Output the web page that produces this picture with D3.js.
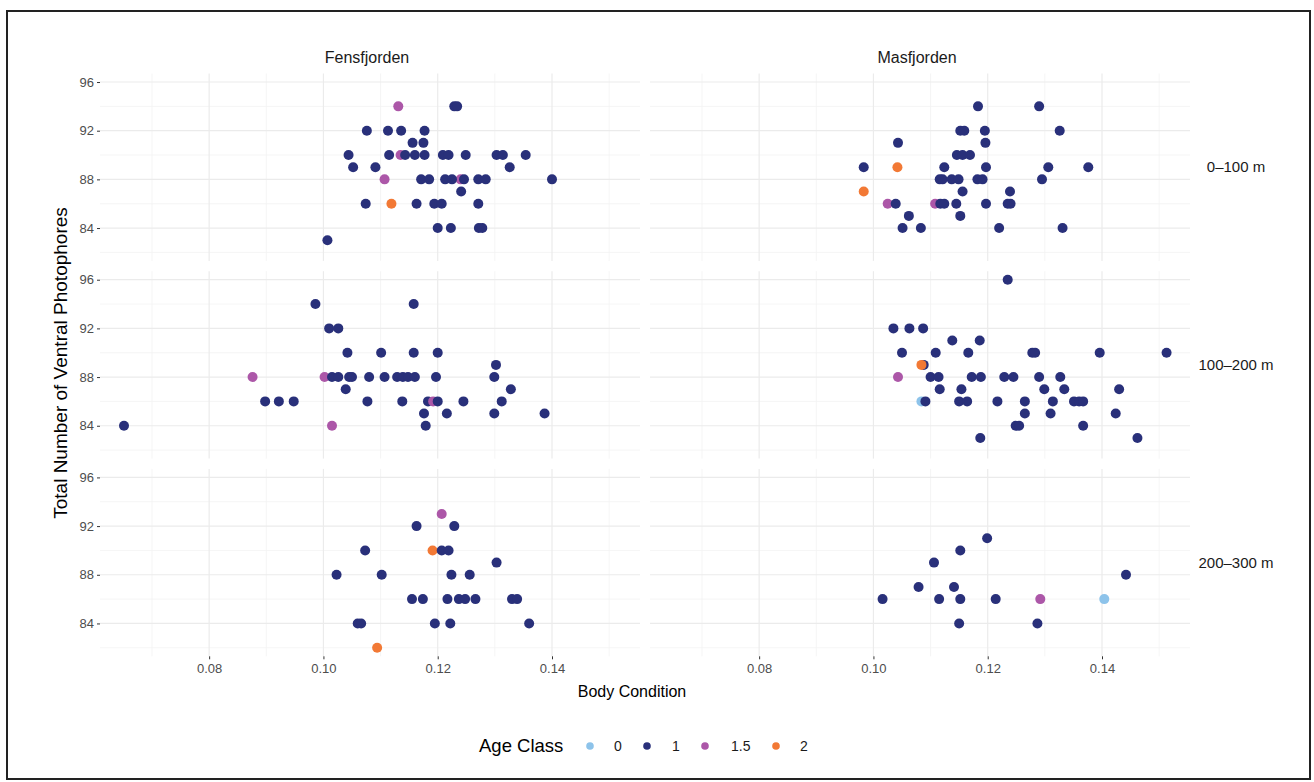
<!DOCTYPE html>
<html>
<head>
<meta charset="utf-8">
<script src="https://cdn.jsdelivr.net/npm/d3@7"></script>
<style>
  html, body { margin: 0; padding: 0; background: #fff; }
  svg { display: block; font-family: "Liberation Sans", Arial, Helvetica, sans-serif; }
</style>
</head>
<body>
<svg id="chart" width="1314" height="782"></svg>
<script>
// ---------- DATA ----------
const fjords = ["Fensfjorden", "Masfjorden"];
const depths = ["0–100 m", "100–200 m", "200–300 m"];
const ageClasses = ["0", "1", "1.5", "2"];
const ageColors = ["#8DC3EA", "#29307A", "#AC57A8", "#F27935"];
const xTicks = [0.08, 0.10, 0.12, 0.14];
const yTicks = [84, 88, 92, 96];
const xMinor = [0.07, 0.09, 0.11, 0.13, 0.15];
const yMinor = [82, 86, 90, 94];

// [body condition, photophores, age class]
const fens0_100 = [
  [0.1131,94,"1.5"],[0.1229,94,"1"],[0.1234,94,"1"],
  [0.1076,92,"1"],[0.1113,92,"1"],[0.1136,92,"1"],[0.1177,92,"1"],
  [0.1156,91,"1"],[0.1175,91,"1"],
  [0.1135,90,"1.5"],[0.1044,90,"1"],[0.1115,90,"1"],[0.1143,90,"1"],[0.1160,90,"1"],[0.1177,90,"1"],
  [0.1209,90,"1"],[0.1219,90,"1"],[0.1249,90,"1"],[0.1303,90,"1"],[0.1314,90,"1"],[0.1354,90,"1"],
  [0.1052,89,"1"],[0.1091,89,"1"],[0.1326,89,"1"],
  [0.1107,88,"1.5"],[0.1240,88,"1.5"],[0.1171,88,"1"],[0.1185,88,"1"],[0.1213,88,"1"],[0.1225,88,"1"],
  [0.1246,88,"1"],[0.1271,88,"1"],[0.1284,88,"1"],[0.1400,88,"1"],
  [0.1241,87,"1"],
  [0.1074,86,"1"],[0.1119,86,"2"],[0.1163,86,"1"],[0.1194,86,"1"],[0.1207,86,"1"],[0.1271,86,"1"],
  [0.1200,84,"1"],[0.1223,84,"1"],[0.1272,84,"1"],[0.1278,84,"1"],
  [0.1007,83,"1"]
];
const mas0_100 = [
  [0.1183,94,"1"],[0.1290,94,"1"],
  [0.1152,92,"1"],[0.1159,92,"1"],[0.1195,92,"1"],[0.1326,92,"1"],
  [0.1043,91,"1"],[0.1196,91,"1"],
  [0.1146,90,"1"],[0.1156,90,"1"],[0.1169,90,"1"],
  [0.0983,89,"1"],[0.1042,89,"2"],[0.1124,89,"1"],[0.1197,89,"1"],[0.1306,89,"1"],[0.1376,89,"1"],
  [0.1116,88,"1"],[0.1121,88,"1"],[0.1137,88,"1"],[0.1149,88,"1"],[0.1182,88,"1"],[0.1191,88,"1"],[0.1295,88,"1"],
  [0.0983,87,"2"],[0.1156,87,"1"],[0.1239,87,"1"],
  [0.1025,86,"1.5"],[0.1039,86,"1"],[0.1108,86,"1.5"],[0.1117,86,"1"],[0.1124,86,"1"],[0.1145,86,"1"],
  [0.1197,86,"1"],[0.1235,86,"1"],[0.1240,86,"1"],
  [0.1062,85,"1"],[0.1152,85,"1"],
  [0.1051,84,"1"],[0.1083,84,"1"],[0.1220,84,"1"],[0.1331,84,"1"]
];
const fens100_200 = [
  [0.0986,94,"1"],[0.1158,94,"1"],
  [0.1010,92,"1"],[0.1026,92,"1"],
  [0.1042,90,"1"],[0.1101,90,"1"],[0.1158,90,"1"],[0.1200,90,"1"],
  [0.1302,89,"1"],
  [0.0876,88,"1.5"],[0.1002,88,"1.5"],[0.1015,88,"1"],[0.1026,88,"1"],[0.1045,88,"1"],[0.1050,88,"1"],
  [0.1080,88,"1"],[0.1107,88,"1"],[0.1129,88,"1"],[0.1139,88,"1"],[0.1148,88,"1"],[0.1160,88,"1"],
  [0.1197,88,"1"],[0.1299,88,"1"],
  [0.1039,87,"1"],[0.1328,87,"1"],
  [0.0898,86,"1"],[0.0922,86,"1"],[0.0948,86,"1"],[0.1077,86,"1"],[0.1138,86,"1"],[0.1183,86,"1"],
  [0.1192,86,"1.5"],[0.1200,86,"1"],[0.1245,86,"1"],[0.1312,86,"1"],
  [0.1176,85,"1"],[0.1216,85,"1"],[0.1299,85,"1"],[0.1387,85,"1"],
  [0.0651,84,"1"],[0.1015,84,"1.5"],[0.1179,84,"1"]
];
const mas100_200 = [
  [0.1235,96,"1"],
  [0.1035,92,"1"],[0.1063,92,"1"],[0.1087,92,"1"],
  [0.1138,91,"1"],[0.1186,91,"1"],
  [0.1050,90,"1"],[0.1109,90,"1"],[0.1166,90,"1"],[0.1278,90,"1"],[0.1283,90,"1"],[0.1396,90,"1"],[0.1513,90,"1"],
  [0.1088,89,"1"],[0.1084,89,"2"],
  [0.1043,88,"1.5"],[0.1100,88,"1"],[0.1114,88,"1"],[0.1172,88,"1"],[0.1188,88,"1"],[0.1229,88,"1"],
  [0.1245,88,"1"],[0.1290,88,"1"],[0.1327,88,"1"],
  [0.1116,87,"1"],[0.1154,87,"1"],[0.1299,87,"1"],[0.1334,87,"1"],[0.1430,87,"1"],
  [0.1084,86,"0"],[0.1091,86,"1"],[0.1150,86,"1"],[0.1164,86,"1"],[0.1217,86,"1"],[0.1265,86,"1"],
  [0.1314,86,"1"],[0.1351,86,"1"],[0.1360,86,"1"],[0.1367,86,"1"],
  [0.1265,85,"1"],[0.1310,85,"1"],[0.1424,85,"1"],
  [0.1249,84,"1"],[0.1255,84,"1"],[0.1367,84,"1"],
  [0.1187,83,"1"],[0.1462,83,"1"]
];
const fens200_300 = [
  [0.1207,93,"1.5"],
  [0.1163,92,"1"],[0.1229,92,"1"],
  [0.1073,90,"1"],[0.1191,90,"2"],[0.1207,90,"1"],[0.1219,90,"1"],
  [0.1303,89,"1"],
  [0.1023,88,"1"],[0.1102,88,"1"],[0.1224,88,"1"],[0.1256,88,"1"],
  [0.1155,86,"1"],[0.1174,86,"1"],[0.1217,86,"1"],[0.1237,86,"1"],[0.1248,86,"1"],[0.1266,86,"1"],
  [0.1330,86,"1"],[0.1339,86,"1"],
  [0.1060,84,"1"],[0.1066,84,"1"],[0.1195,84,"1"],[0.1222,84,"1"],[0.1360,84,"1"],
  [0.1094,82,"2"]
];
const mas200_300 = [
  [0.1199,91,"1"],[0.1152,90,"1"],[0.1106,89,"1"],[0.1442,88,"1"],
  [0.1079,87,"1"],[0.1141,87,"1"],
  [0.1016,86,"1"],[0.1115,86,"1"],[0.1152,86,"1"],[0.1214,86,"1"],[0.1292,86,"1.5"],[0.1404,86,"0"],
  [0.1150,84,"1"],[0.1287,84,"1"]
];

const panelData = [
  [fens0_100, mas0_100],
  [fens100_200, mas100_200],
  [fens200_300, mas200_300]
];

// ---------- LAYOUT ----------
const svg = d3.select("#chart");
const panelW = 540, panelH = 187.4;
const panelX0 = 100, panelGapX = 10;
const panelY0 = 73.5, panelPitchY = 197.7;

const x = d3.scaleLinear().domain([0.0609, 0.1554]).range([0, panelW]);
const y = d3.scaleLinear().domain([81.3, 96.7]).range([panelH, 0]);
const color = d3.scaleOrdinal().domain(ageClasses).range(ageColors);

// frame
svg.append("rect").attr("x", 7).attr("y", 11).attr("width", 1303).attr("height", 768)
  .attr("fill", "none").attr("stroke", "#222").attr("stroke-width", 2);

depths.forEach((depth, r) => {
  fjords.forEach((fjord, c) => {
    const px = panelX0 + c * (panelW + panelGapX);
    const py = panelY0 + r * panelPitchY;
    const g = svg.append("g").attr("transform", `translate(${px},${py})`);

    // minor grid
    g.selectAll(".vminor").data(xMinor).join("line")
      .attr("x1", d => x(d)).attr("x2", d => x(d)).attr("y1", 0).attr("y2", panelH)
      .attr("stroke", "#F2F2F2").attr("stroke-width", 0.8);
    g.selectAll(".hminor").data(yMinor).join("line")
      .attr("y1", d => y(d)).attr("y2", d => y(d)).attr("x1", 0).attr("x2", panelW)
      .attr("stroke", "#F2F2F2").attr("stroke-width", 0.8);
    // major grid
    g.selectAll(".vmajor").data(xTicks).join("line")
      .attr("x1", d => x(d)).attr("x2", d => x(d)).attr("y1", 0).attr("y2", panelH)
      .attr("stroke", "#EBEBEB").attr("stroke-width", 1.2);
    g.selectAll(".hmajor").data(yTicks).join("line")
      .attr("y1", d => y(d)).attr("y2", d => y(d)).attr("x1", 0).attr("x2", panelW)
      .attr("stroke", "#EBEBEB").attr("stroke-width", 1.2);

    // y axis on left column
    if (c === 0) {
      const ya = d3.axisLeft(y).tickValues(yTicks).tickSize(3).tickPadding(3).tickFormat(d3.format("d"));
      const yg = g.append("g").call(ya);
      yg.select(".domain").remove();
      yg.selectAll("line").attr("stroke", "#333").attr("stroke-width", 1);
      yg.selectAll("text").attr("fill", "#4D4D4D").style("font-size", "13px")
        .style("font-family", "'Liberation Sans', Arial, sans-serif");
    }
    // x axis on bottom row
    if (r === depths.length - 1) {
      const xa = d3.axisBottom(x).tickValues(xTicks).tickSize(3).tickPadding(4).tickFormat(d3.format(".2f"));
      const xg = g.append("g").attr("transform", `translate(0,${panelH})`).call(xa);
      xg.select(".domain").remove();
      xg.selectAll("line").attr("stroke", "#333").attr("stroke-width", 1);
      xg.selectAll("text").attr("fill", "#4D4D4D").style("font-size", "13px")
        .style("font-family", "'Liberation Sans', Arial, sans-serif");
    }

    // points
    g.selectAll("circle").data(panelData[r][c]).join("circle")
      .attr("cx", d => x(d[0])).attr("cy", d => y(d[1])).attr("r", 5)
      .attr("fill", d => color(d[2]));

    // top strip
    if (r === 0) {
      svg.append("text").attr("x", px + panelW / 2 - 3).attr("y", 63)
        .attr("text-anchor", "middle").attr("fill", "#1A1A1A").style("font-size", "16px")
        .text(fjord);
    }
    // right strip
    if (c === fjords.length - 1) {
      svg.append("text").attr("x", 1236).attr("y", py + panelH / 2 + 5)
        .attr("text-anchor", "middle").attr("fill", "#1A1A1A").style("font-size", "15px")
        .text(depth);
    }
  });
});

// axis titles
svg.append("text").attr("x", 632).attr("y", 697).attr("text-anchor", "middle")
  .attr("fill", "#000").style("font-size", "16px").text("Body Condition");
svg.append("text").attr("transform", `translate(67,363) rotate(-90)`)
  .attr("text-anchor", "middle").attr("fill", "#000").style("font-size", "19px")
  .text("Total Number of Ventral Photophores");

// legend
const lg = svg.append("g");
lg.append("text").attr("x", 479).attr("y", 752).attr("fill", "#000").style("font-size", "18.5px").text("Age Class");
const legendDotX = [590, 647, 705, 776];
const legendLabelX = [614, 672, 731, 800];
ageClasses.forEach((a, i) => {
  lg.append("circle").attr("cx", legendDotX[i]).attr("cy", 746).attr("r", 3.8).attr("fill", color(a));
  lg.append("text").attr("x", legendLabelX[i]).attr("y", 751).attr("fill", "#1A1A1A")
    .style("font-size", "14px").text(a);
});
</script>
</body>
</html>
